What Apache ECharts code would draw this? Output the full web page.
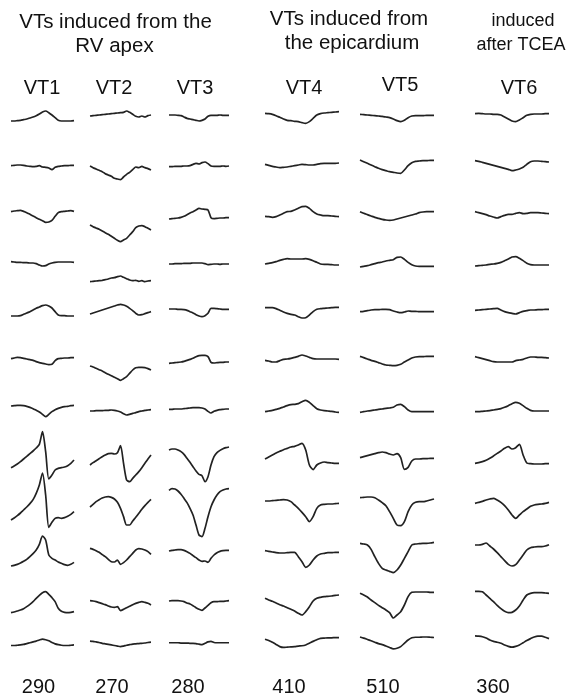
<!DOCTYPE html>
<html>
<head>
<meta charset="utf-8">
<script src="https://cdn.jsdelivr.net/npm/echarts@6/dist/echarts.min.js"></script>
<style>
html,body{margin:0;padding:0;background:#fff;}
#chart{width:567px;height:695px;}
</style>
</head>
<body>
<div id="chart"></div>
<script>
// ---- DATA (amplitude of each lead trace, 21 evenly spaced samples, rows = 12 leads) ----
const columnLabels = ['VT1', 'VT2', 'VT3', 'VT4', 'VT5', 'VT6'];
const cycleLengths = ['290', '270', '280', '410', '510', '360'];
const groupTitles = [
  ['VTs induced from the', 'RV apex'],
  ['VTs induced from', 'the epicardium'],
  ['induced', 'after TCEA']
];

const VT1 = [
  [-3,-3,-2,-1,1,3,6,9,13,18,24,27,22,15,7,-1,-3,-3,-3,-3,-2],
  [4,5,6,6,5,3,2,1,2,4,0,-1,-3,-8,-1,2,3,4,4,5,5],
  [7,9,10,11,8,4,-1,-6,-11,-16,-20,-25,-24,-19,-7,4,7,8,9,10,8],
  [1,0,-1,-1,-2,-2,-3,-3,-5,-9,-12,-11,-6,-3,-1,0,0,0,0,0,-1],
  [-18,-18,-18,-17,-13,-9,-5,0,5,9,13,15,12,6,-5,-15,-17,-17,-18,-18,-18],
  [-2,0,2,1,-1,-3,-5,-7,-11,-14,-16,-18,-20,-19,-8,-2,-1,0,0,1,1],
  [0,1,2,2,1,-1,-4,-8,-13,-18,-25,-32,-25,-17,-11,-7,-4,-2,-1,1,2],
  [-29,-24,-18,-11,-3,5,13,21,30,41,79,19,-63,-51,-36,-31,-29,-27,-23,-16,-6],
  [-30,-24,-17,-9,0,9,19,31,50,75,111,45,-52,-37,-25,-23,-25,-23,-19,-13,-5],
  [-18,-16,-13,-9,-4,2,10,19,30,47,72,60,15,5,0,-6,-10,-14,-16,-13,-7],
  [-8,-6,-3,0,4,10,17,25,35,44,52,55,47,37,25,5,-4,-7,-8,-7,-5],
  [0,0,1,2,4,7,10,13,16,20,23,21,17,11,6,3,1,0,0,1,2]
];
const VT2 = [
  [12,13,14,15,16,17,18,19,20,21,22,23,27,23,17,11,9,12,9,13,15],
  [3,-2,-6,-10,-14,-20,-24,-28,-34,-36,-38,-30,-22,-16,-8,0,-2,2,-2,-5,-9],
  [-33,-38,-42,-46,-51,-56,-61,-67,-73,-79,-83,-78,-73,-63,-53,-41,-36,-35,-38,-43,-48],
  [-59,-58,-57,-56,-55,-53,-51,-48,-47,-44,-42,-46,-50,-54,-56,-55,-58,-56,-59,-57,-56],
  [-12,-9,-6,-3,0,3,6,9,12,15,17,15,11,5,-2,-10,-15,-14,-11,-8,-5],
  [-24,-27,-31,-35,-39,-44,-49,-53,-58,-62,-67,-62,-56,-46,-36,-29,-28,-28,-29,-32,-36],
  [-15,-15,-14,-14,-14,-13,-13,-12,-13,-15,-18,-23,-27,-25,-22,-20,-17,-15,-13,-12,-11],
  [-21,-14,-8,-2,4,9,13,14,12,16,37,-16,-66,-71,-61,-51,-41,-29,-16,-3,9],
  [9,17,25,31,36,39,40,38,33,23,5,-20,-45,-45,-33,-22,-10,2,13,23,32],
  [35,32,28,23,16,10,2,-5,-6,0,-13,-8,0,10,20,30,34,33,30,25,17],
  [28,27,25,22,19,16,12,9,8,10,-2,2,7,11,16,20,23,25,23,20,15],
  [16,15,13,11,8,6,4,2,0,-2,-4,-2,1,3,5,6,7,8,9,11,12]
];
const VT3 = [
  [15,15,15,14,13,9,5,3,1,-1,-3,-1,3,11,14,14,14,15,14,14,14],
  [1,1,2,2,2,3,3,4,8,11,9,13,15,10,3,2,2,2,3,2,3],
  [-15,-14,-13,-12,-10,-7,-2,3,7,12,17,15,14,12,-11,-14,-13,-12,-12,-11,-11],
  [-6,-6,-5,-5,-5,-4,-4,-4,-3,-3,-3,-3,-5,-8,-7,-6,-6,-7,-6,-6,-6],
  [3,3,3,2,2,1,-1,-5,-9,-14,-18,-20,-17,-10,5,5,4,3,2,2,2],
  [-16,-15,-14,-13,-12,-10,-7,-4,-1,4,7,8,8,4,-13,-15,-14,-13,-13,-12,-12],
  [-10,-10,-9,-9,-9,-8,-7,-6,-5,-5,-5,-6,-9,-16,-21,-16,-13,-11,-10,-9,-9],
  [24,27,27,24,19,11,-1,-13,-26,-39,-49,-53,-71,-56,-21,4,16,23,28,31,33],
  [59,64,63,57,47,35,22,5,-15,-45,-75,-80,-55,-20,10,30,45,55,60,63,64],
  [27,29,30,31,31,29,25,20,13,7,0,-4,-3,-7,5,15,22,26,28,29,29],
  [27,28,28,28,27,25,21,18,13,7,2,-1,6,14,22,25,25,26,26,27,28],
  [10,10,10,10,9,9,9,8,8,7,5,3,8,13,15,11,10,10,10,10,10]
];
const VT4 = [
  [20,19,17,13,8,3,-1,-2,-4,-5,-8,-10,-5,5,15,19,21,22,23,24,25],
  [8,5,2,0,-2,-1,0,2,4,6,8,7,6,6,8,10,11,11,11,11,12],
  [-7,-8,-10,-8,-3,2,7,8,12,17,22,23,17,7,0,-3,-5,-5,-6,-7,-8],
  [-6,-4,-2,1,5,8,10,9,9,9,9,10,8,4,-1,-6,-7,-7,-8,-9,-9],
  [7,7,7,4,-1,-6,-10,-13,-15,-20,-24,-23,-15,-5,2,4,5,6,7,8,8],
  [-7,-9,-12,-12,-8,-4,-3,-1,2,5,9,6,2,-2,-3,-3,-3,-3,-3,-3,-4],
  [-17,-15,-13,-10,-7,-3,1,4,5,7,13,17,11,1,-8,-12,-14,-15,-16,-18,-19],
  [-3,3,9,15,20,25,29,33,35,39,44,24,-21,-35,-21,-15,-12,-14,-15,-16,-16],
  [27,27,28,29,30,31,30,25,15,5,-7,-20,-35,-20,5,15,17,18,18,19,20],
  [28,26,24,22,21,21,22,23,23,10,-5,-22,-15,0,12,18,20,22,22,23,23],
  [35,30,26,21,16,12,7,2,-3,-10,-15,-5,10,27,35,38,40,41,42,44,45],
  [23,18,12,4,-4,-7,-6,-5,-4,-2,-1,2,8,15,21,26,27,28,28,29,29]
];
const VT5 = [
  [17,16,15,14,13,12,11,9,7,3,-2,-5,-1,7,12,13,13,13,14,14,14],
  [21,16,11,6,1,-4,-8,-11,-14,-16,-18,-19,-9,4,13,17,18,19,19,20,20],
  [7,2,-2,-6,-10,-13,-16,-18,-19,-18,-15,-12,-9,-6,-3,0,4,6,7,7,7],
  [-15,-13,-11,-8,-5,-2,0,3,5,7,14,15,8,-1,-8,-12,-13,-13,-13,-13,-13],
  [-5,-4,-2,0,1,1,2,2,1,-3,-6,-8,-6,-3,-4,-4,-5,-5,-5,-5,-5],
  [5,1,-3,-7,-10,-14,-18,-21,-22,-23,-22,-19,-12,-6,0,3,4,4,5,5,5],
  [-19,-17,-15,-14,-12,-10,-9,-7,-6,-4,3,5,-2,-12,-17,-17,-17,-17,-17,-17,-17],
  [1,4,7,10,13,16,18,16,12,9,13,1,-34,-28,-9,-3,-3,-2,-2,-1,-1],
  [37,38,39,39,37,30,22,13,-5,-25,-45,-47,-35,-5,15,23,25,25,27,30,33],
  [50,48,45,32,10,-10,-25,-30,-34,-38,-30,-15,5,25,45,48,49,50,50,51,53],
  [50,45,39,30,22,14,7,0,-8,-24,-15,-5,15,40,53,54,54,54,54,53,53],
  [31,27,22,17,12,7,3,-2,-7,-12,-10,-4,8,20,28,30,30,31,31,30,29]
];
const VT6 = [
  [19,20,19,18,18,17,17,15,9,3,-3,-5,0,7,14,17,18,18,18,19,19],
  [19,17,14,11,8,5,2,-1,-4,-7,-11,-9,-6,-1,8,16,18,18,17,16,15],
  [7,4,1,-2,-6,-9,-12,-8,-4,-1,-1,2,4,1,2,4,4,4,3,2,1],
  [-12,-11,-10,-9,-7,-6,-4,-1,4,9,15,16,11,4,-4,-8,-9,-9,-9,-9,-9],
  [-1,0,1,2,3,4,5,0,-5,-8,-10,-12,-8,-4,-2,0,0,1,1,2,2],
  [4,1,-2,-5,-8,-11,-12,-12,-12,-12,-12,-8,-6,-4,0,3,3,2,2,1,0],
  [-17,-17,-16,-15,-14,-12,-10,-8,-4,1,7,11,8,1,-7,-13,-15,-15,-15,-15,-15],
  [-16,-14,-11,-7,-1,6,14,21,29,34,27,31,41,9,-15,-17,-18,-18,-18,-17,-17],
  [20,23,26,30,33,35,30,23,13,0,-15,-25,-15,-5,3,11,15,17,18,20,23],
  [45,45,47,51,42,33,22,10,-2,-13,-18,-14,0,15,30,37,39,40,40,42,46],
  [56,56,55,45,35,25,14,4,-4,-8,-7,0,12,30,45,50,52,52,52,51,50],
  [35,34,32,27,20,15,12,8,2,-3,-6,-3,2,10,18,25,31,34,34,30,25]
];
const traces = [VT1, VT2, VT3, VT4, VT5, VT6];

// ---- LAYOUT ----
const colX = [[11, 74], [90, 151], [169, 229], [265, 339], [360, 434], [475, 549]];
const rowY = [120, 167, 214, 262, 310, 358, 406, 458, 510, 560, 610, 656];
const cellHalf = 60;      // px above/below baseline
const ampRange = 180;     // amplitude units over cellHalf
const lineColor = '#222222';
const FAMILY = '"Liberation Sans", Arial, sans-serif';

const grids = [], xAxes = [], yAxes = [], series = [];
traces.forEach((col, c) => {
  col.forEach((trace, r) => {
    const idx = grids.length;
    grids.push({left: colX[c][0], width: colX[c][1] - colX[c][0], top: rowY[r] - cellHalf, height: cellHalf * 2});
    xAxes.push({type: 'value', gridIndex: idx, min: 0, max: trace.length - 1, show: false});
    yAxes.push({type: 'value', gridIndex: idx, min: -ampRange, max: ampRange, show: false});
    series.push({
      type: 'line', xAxisIndex: idx, yAxisIndex: idx,
      data: trace.map((v, i) => [i, v]),
      showSymbol: false, smooth: 0.25, silent: true,
      lineStyle: {color: lineColor, width: 1.7}
    });
  });
});

function txt(text, x, y, size) {
  return {type: 'text', x: x, y: y, silent: true,
    style: {text: text, font: size + 'px ' + FAMILY, fill: '#111', textAlign: 'center', textVerticalAlign: 'middle'}};
}
const titlePos = [[[115.5, 22], [114.5, 46]], [[349, 19], [352, 43]], [[523, 21], [521, 45]]];
const titleSize = [20.5, 20.5, 18];
const labelPos = [[42, 88], [114, 88], [195, 88], [304, 88], [400, 85], [519, 88]];
const numPos = [[38.5, 687], [112, 687], [188, 687], [289, 687], [383, 687], [493, 687]];
const graphics = [];
groupTitles.forEach((g, i) => g.forEach((line, j) => graphics.push(txt(line, titlePos[i][j][0], titlePos[i][j][1], titleSize[i]))));
columnLabels.forEach((l, i) => graphics.push(txt(l, labelPos[i][0], labelPos[i][1], 20)));
cycleLengths.forEach((l, i) => graphics.push(txt(l, numPos[i][0], numPos[i][1], 20)));

const chart = echarts.init(document.getElementById('chart'));
chart.setOption({
  animation: false,
  backgroundColor: '#fff',
  grid: grids, xAxis: xAxes, yAxis: yAxes, series: series,
  graphic: graphics
});
</script>
</body>
</html>
